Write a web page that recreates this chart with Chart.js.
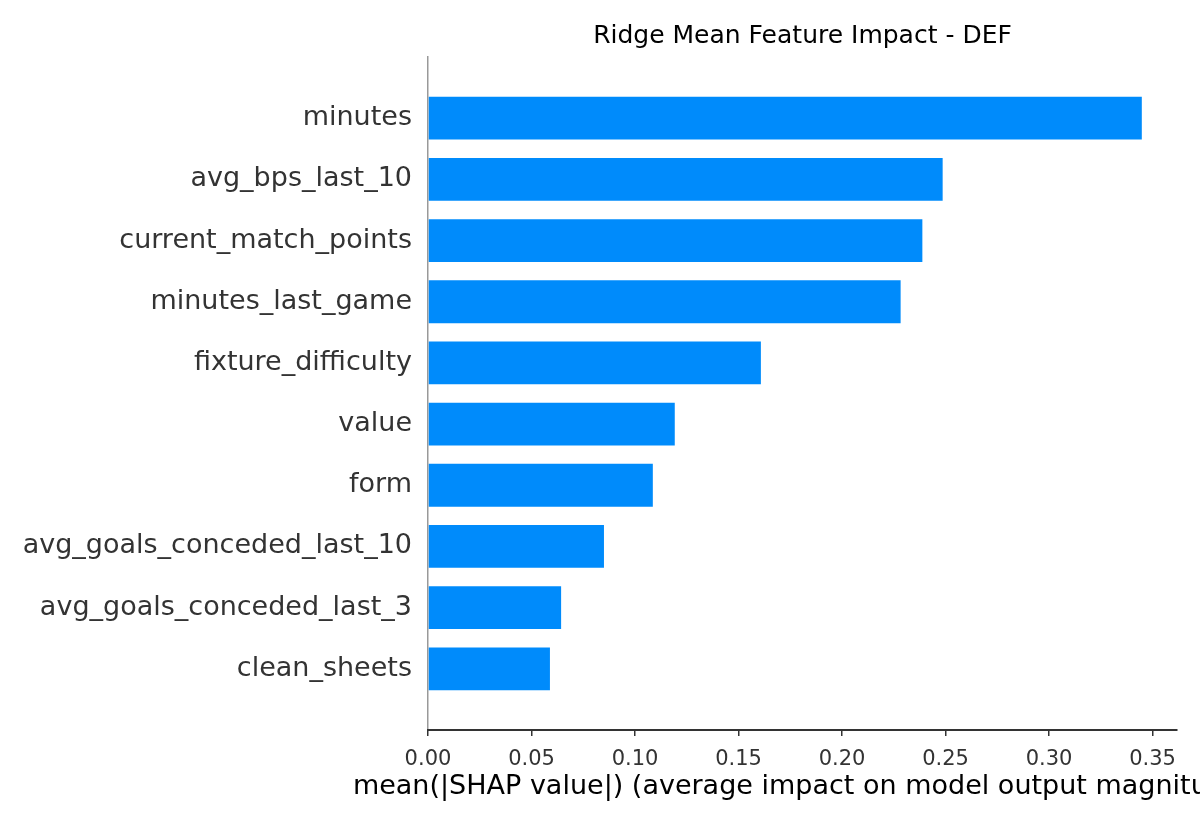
<!DOCTYPE html>
<html>
<head>
<meta charset="utf-8">
<script src="https://cdn.jsdelivr.net/npm/chart.js@4"></script>
<style>
  html, body { margin: 0; padding: 0; background: #ffffff; }
  #wrap { width: 1200px; height: 825px; }
</style>
</head>
<body>
<div id="wrap"><canvas id="c" width="1200" height="825"></canvas></div>
<script>
const features = [
  "minutes",
  "avg_bps_last_10",
  "current_match_points",
  "minutes_last_game",
  "fixture_difficulty",
  "value",
  "form",
  "avg_goals_conceded_last_10",
  "avg_goals_conceded_last_3",
  "clean_sheets"
];
const shapValues = [0.3448, 0.2486, 0.2388, 0.2283, 0.1608, 0.1192, 0.1086, 0.0850, 0.0643, 0.0589];
const xTicks = [0.00, 0.05, 0.10, 0.15, 0.20, 0.25, 0.30, 0.35];
const xMax = 0.3618;
const titleText = "Ridge Mean Feature Impact - DEF";
const xLabel = "mean(|SHAP value|) (average impact on model output magnitude)";

// blank slots at both ends give one category of room above and below the bars
const labels = [""].concat(features, [""]);
const data = [null].concat(shapValues, [null]);

const FONT = "'DejaVu Sans', 'Liberation Sans', sans-serif";

// x-axis label drawn at its natural width (the built-in axis title squeezes it to the axis width)
const xLabelPlugin = {
  id: "xLabelPlugin",
  afterDraw: function (chart) {
    const ctx = chart.ctx;
    const a = chart.chartArea;
    ctx.save();
    ctx.font = "27px " + FONT;
    ctx.fillStyle = "#000000";
    ctx.textAlign = "center";
    ctx.textBaseline = "middle";
    ctx.fillText(xLabel, (a.left + a.right) / 2, a.bottom + 57);
    ctx.restore();
  }
};

new Chart(document.getElementById("c"), {
  type: "bar",
  data: {
    labels: labels,
    datasets: [{
      data: data,
      backgroundColor: "#008bfb",
      borderWidth: 0,
      barPercentage: 0.7,
      categoryPercentage: 1.0
    }]
  },
  plugins: [xLabelPlugin],
  options: {
    indexAxis: "y",
    responsive: false,
    animation: false,
    devicePixelRatio: 1,
    layout: { padding: { left: 0, right: 23, top: 0, bottom: 0 } },
    plugins: {
      legend: { display: false },
      tooltip: { enabled: false },
      title: { display: false }
    },
    scales: {
      y: {
        type: "category",
        offset: false,
        grid: { display: false },
        border: { display: true, color: "#999999", width: 1.5 },
        ticks: {
          font: { family: FONT, size: 27 },
          color: "#333333",
          padding: 8,
          autoSkip: false
        },
        afterFit: function (s) { s.width = 428; }
      },
      x: {
        type: "linear",
        position: "bottom",
        min: 0,
        max: xMax,
        grid: {
          display: true,
          drawOnChartArea: false,
          drawTicks: true,
          tickLength: 6,
          color: "#333333",
          lineWidth: 1.5
        },
        border: { display: true, color: "#333333", width: 2 },
        ticks: {
          font: { family: FONT, size: 21 },
          color: "#333333",
          padding: 11,
          includeBounds: false,
          callback: function (v) { return Number(v).toFixed(2); }
        },
        afterBuildTicks: function (s) { s.ticks = xTicks.map(function (v) { return { value: v }; }); },
        title: { display: false },
        afterFit: function (s) { s.height = 95; }
      },
      x2: {
        type: "linear",
        position: "top",
        min: 0,
        max: 1,
        grid: { display: false },
        border: { display: false },
        ticks: { display: false },
        title: {
          display: true,
          text: titleText,
          font: { family: FONT, size: 25 },
          color: "#000000",
          padding: { top: 21, bottom: 0 }
        },
        afterFit: function (s) { s.height = 57; }
      }
    }
  }
});
</script>
</body>
</html>
